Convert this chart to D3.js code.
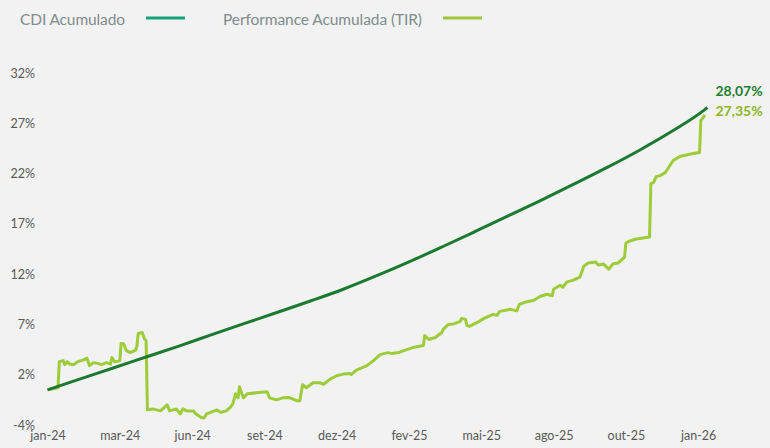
<!DOCTYPE html>
<html>
<head>
<meta charset="utf-8">
<script src="https://cdn.jsdelivr.net/npm/d3@7"></script>
<style>
  body { margin: 0; background: #f2f2f2; }
  svg { display: block; font-family: "Lato", "Noto Sans", sans-serif; }
</style>
</head>
<body>
<div id="chart"></div>
<script>
const FRAME_WIDTH = 770;
const FRAME_HEIGHT = 448;

// x is a business-day index, labels every 55 days
const X_TICKS = [0, 55, 110, 165, 220, 275, 330, 385, 440, 495];
const X_LABELS = ["jan-24", "mar-24", "jun-24", "set-24", "dez-24", "fev-25", "mai-25", "ago-25", "out-25", "jan-26"];

// y ticks sit on half points, labels are rounded like the source
const Y_TICKS = [-3.5, 1.5, 6.5, 11.5, 16.5, 21.5, 26.5, 31.5];
const Y_LABELS = ["-4%", "2%", "7%", "12%", "17%", "22%", "27%", "32%"];

// CDI acumulado (%)
const cdiDays = [0, 25, 50, 75, 100, 125, 150, 175, 200, 225, 250, 275, 300, 325, 350, 375, 400, 425, 450, 475, 500, 502];
const cdiValues = [0.0, 1.09, 2.17, 3.26, 4.35, 5.48, 6.6, 7.71, 8.83, 10.0, 11.32, 12.72, 14.2, 15.72, 17.26, 18.82, 20.42, 22.06, 23.8, 25.7, 27.86, 28.07];

// Performance acumulada TIR (%)
const perfDays = [0, 8, 9, 12, 13, 15, 17, 20, 23, 27, 30, 32, 35, 39, 41, 45, 48, 49, 51, 54, 55,
  56, 58, 60, 63, 67, 68, 69, 72, 74, 75, 76, 80, 86, 91, 93, 98, 101, 103, 106, 111, 113, 117, 119,
  121, 129, 132, 136, 139, 141, 143, 145, 146, 149, 152, 159, 167, 169, 174, 179, 184, 190, 192, 194,
  197, 202, 207, 210, 215, 220, 225, 230, 231, 235, 243, 248, 253, 259, 262, 267, 271, 278, 286, 287,
  290, 295, 300, 301, 305, 309, 314, 315, 318, 319, 321, 327, 332, 339, 342, 344, 352, 357, 359, 363,
  370, 375, 380, 384, 385, 390, 392, 395, 400, 405, 408, 411, 417, 419, 423, 427, 430, 434, 439, 440,
  443, 448, 453, 458, 459, 461, 463, 466, 470, 471, 476, 481, 486, 491, 496, 497, 499, 500];
const perfValues = [0.0, 0.2, 2.8, 2.9, 2.5, 2.8, 2.55, 2.5, 2.8, 2.95, 3.15, 2.4, 2.7, 2.6, 2.5, 2.7, 2.55, 3.2, 2.8, 2.85, 2.9,
  4.6, 4.55, 3.9, 3.7, 3.95, 4.3, 5.6, 5.7, 5.0, 4.9, -2.0, -1.9, -2.1, -1.5, -2.1, -1.9, -2.4, -1.9, -2.1, -2.1, -2.4, -2.75, -2.8,
  -2.4, -2.0, -2.25, -2.1, -1.75, -1.4, -0.4, -0.8, 0.3, -0.8, -0.4, -0.3, -0.2, -0.8, -1.0, -0.8, -0.77, -1.1, -1.1, 0.5,
  0.2, 0.7, 0.7, 0.55, 1.06, 1.4, 1.56, 1.62, 1.5, 1.96, 2.4, 2.9, 3.5, 3.7, 3.6, 3.7, 3.9, 4.2, 4.4, 5.4,
  5.0, 5.2, 5.7, 6.0, 6.5, 6.55, 6.8, 7.1, 7.0, 6.4, 6.3, 6.7, 7.1, 7.5, 7.4, 7.8, 8.0, 7.85, 8.5, 8.7,
  8.9, 9.3, 9.5, 9.35, 10.0, 10.4, 10.2, 10.7, 10.9, 11.2, 12.3, 12.6, 12.7, 12.4, 12.5, 12.0, 12.5, 12.6, 13.2, 14.6,
  14.8, 15.0, 15.1, 15.2, 20.5, 20.6, 21.2, 21.3, 21.6, 21.8, 22.8, 23.2, 23.35, 23.5, 23.6, 26.8, 27.1, 27.35];

const SERIES_NAMES = ["CDI Acumulado", "Performance Acumulada (TIR)"];
const END_LABELS = ["28,07%", "27,35%"];

const LINE_COLORS = ["#1b7a2f", "#9ccc3a"];
const LEGEND_COLORS = ["#16a37c", "#9dc73c"];
const LABEL_COLORS = ["#1f7f32", "#8db52b"];

const cdi = cdiDays.map((d, i) => ({ day: d, value: cdiValues[i] }));
const perf = perfDays.map((d, i) => ({ day: d, value: perfValues[i] }));

const X_SCALE = d3.scaleLinear().domain([0, 495]).range([47.5, 698.2]);
const Y_SCALE = d3.scaleLinear().domain([-3.5, 31.5]).range([425, 73]);

const FRAME = d3.select("#chart")
  .append("svg")
  .attr("width", FRAME_WIDTH)
  .attr("height", FRAME_HEIGHT);

FRAME.append("rect")
  .attr("width", FRAME_WIDTH)
  .attr("height", FRAME_HEIGHT)
  .attr("fill", "#f2f2f2");

// y axis, labels only
const yAxis = FRAME.append("g")
  .attr("transform", "translate(35,0)")
  .call(d3.axisLeft(Y_SCALE).tickValues(Y_TICKS)
    .tickFormat((d, i) => Y_LABELS[i]).tickSize(0).tickPadding(0));
yAxis.select(".domain").remove();
yAxis.selectAll("text")
  .attr("font-size", "12.5px")
  .attr("font-family", "Lato, sans-serif")
  .attr("fill", "#595959");

// x axis, labels only
const xAxis = FRAME.append("g")
  .attr("transform", "translate(0,431)")
  .call(d3.axisBottom(X_SCALE).tickValues(X_TICKS)
    .tickFormat((d, i) => X_LABELS[i]).tickSize(0).tickPadding(0));
xAxis.select(".domain").remove();
xAxis.selectAll("text")
  .attr("font-size", "12.5px")
  .attr("font-family", "Lato, sans-serif")
  .attr("fill", "#595959");

const line = d3.line()
  .x((d) => X_SCALE(d.day))
  .y((d) => Y_SCALE(d.value));

FRAME.append("path")
  .datum(perf)
  .attr("fill", "none")
  .attr("stroke", LINE_COLORS[1])
  .attr("stroke-width", 3)
  .attr("stroke-linejoin", "round")
  .attr("d", line);

FRAME.append("path")
  .datum(cdi)
  .attr("fill", "none")
  .attr("stroke", LINE_COLORS[0])
  .attr("stroke-width", 3)
  .attr("stroke-linejoin", "round")
  .attr("d", line.curve(d3.curveMonotoneX));

// end value labels
const lastCdi = cdi[cdi.length - 1];
const lastPerf = perf[perf.length - 1];
FRAME.append("text")
  .attr("x", X_SCALE(lastCdi.day) + 8)
  .attr("y", Y_SCALE(lastCdi.value) - 11)
  .attr("font-size", "14px")
  .attr("font-weight", "bold")
  .attr("fill", LABEL_COLORS[0])
  .text(END_LABELS[0]);
FRAME.append("text")
  .attr("x", X_SCALE(lastCdi.day) + 8)
  .attr("y", Y_SCALE(lastPerf.value) + 1)
  .attr("font-size", "14px")
  .attr("font-weight", "bold")
  .attr("fill", LABEL_COLORS[1])
  .text(END_LABELS[1]);

// legend
const legendX = [20, 223];
const legendW = [105, 199];
SERIES_NAMES.forEach((name, i) => {
  const g = FRAME.append("g").attr("transform", "translate(" + legendX[i] + ",0)");
  g.append("text")
    .attr("x", 0)
    .attr("y", 25)
    .attr("font-size", "15.5px")
    .attr("fill", "#7f8c8d")
    .attr("textLength", legendW[i])
    .attr("lengthAdjust", "spacing")
    .text(name);
  g.append("line")
    .attr("x1", legendW[i] + 21)
    .attr("x2", legendW[i] + 60)
    .attr("y1", 18)
    .attr("y2", 18)
    .attr("stroke", LEGEND_COLORS[i])
    .attr("stroke-width", 3);
});
</script>
</body>
</html>
